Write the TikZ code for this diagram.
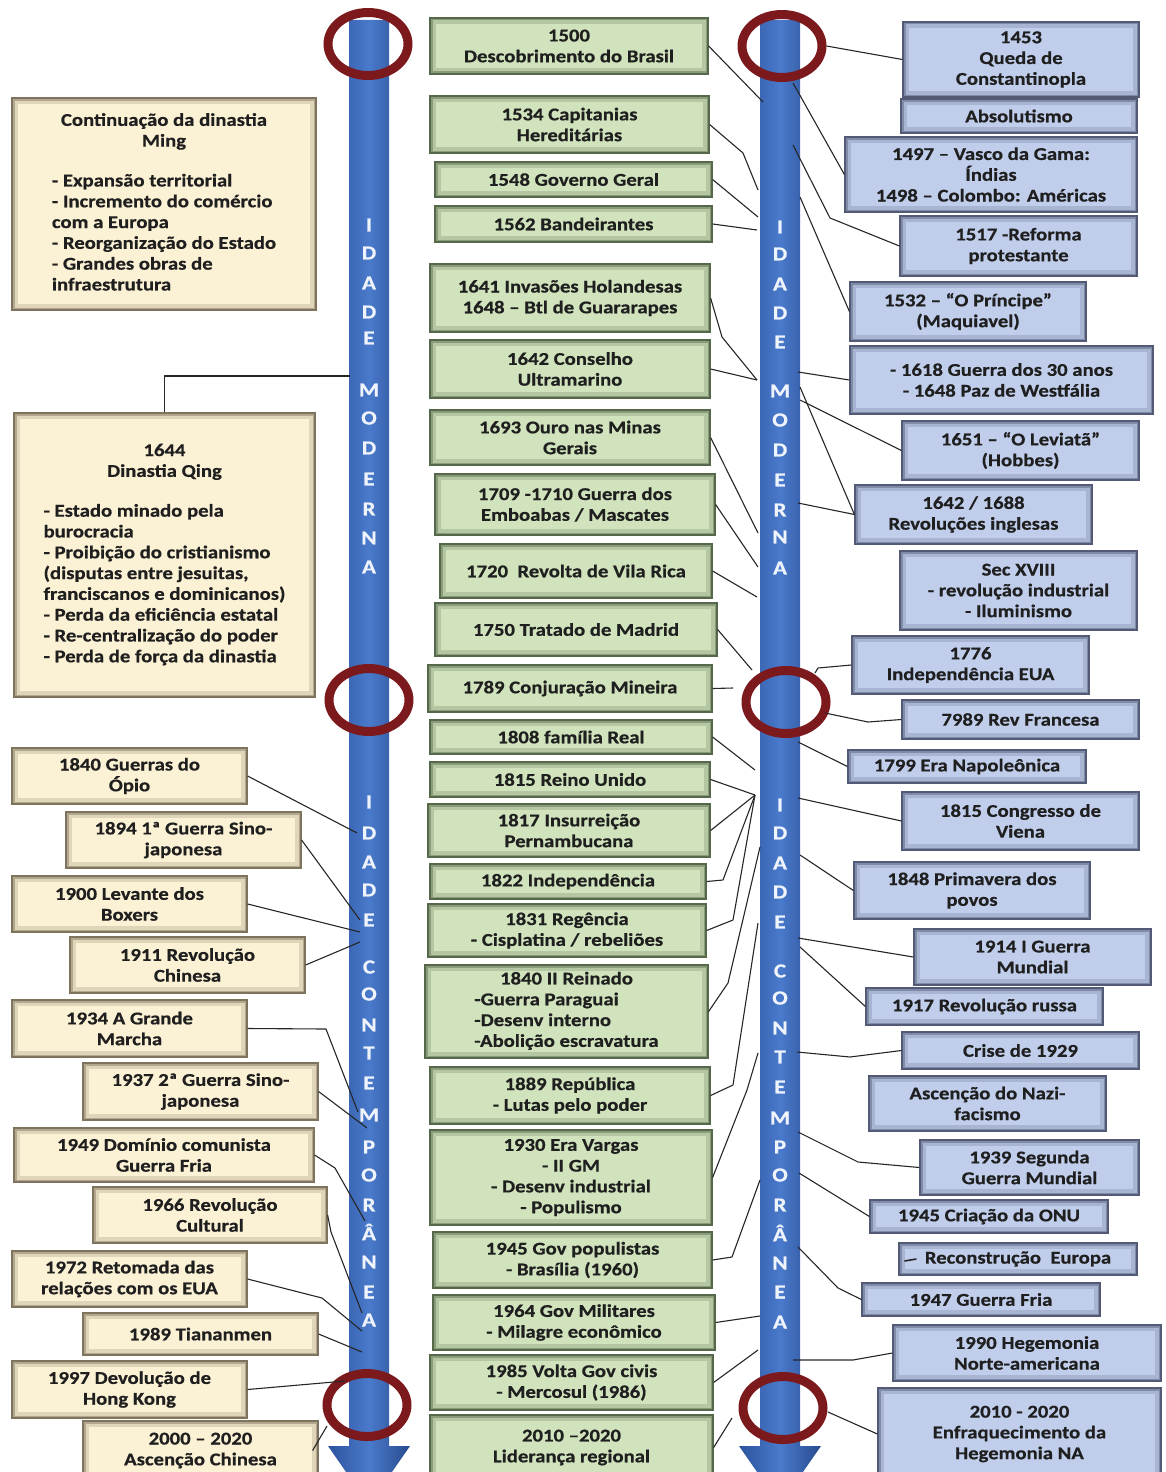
\documentclass[tikz,border=0pt]{standalone}
\usepackage{fontspec}
\setmainfont{Carlito}[FakeStretch=1.15, BoldFeatures={FakeBold=0.6}]
\usetikzlibrary{calc,shapes.geometric}
\definecolor{lfill}{HTML}{FBF1D4}
\definecolor{ledge}{HTML}{7E735C}
\definecolor{gfill}{HTML}{D0E3BC}
\definecolor{gedge}{HTML}{56684A}
\definecolor{bfill}{HTML}{C0CEEC}
\definecolor{bedge}{HTML}{525A76}
\definecolor{txtc}{HTML}{1F1F1F}
\definecolor{arrd}{HTML}{2C539E}
\definecolor{arrl}{HTML}{4A7ACB}
\definecolor{ringc}{HTML}{7C191C}
\definecolor{vlc}{HTML}{EEF3FC}
\newcommand\bx[7]{\node[#1, minimum width={#5pt-#3pt}, minimum height={#6pt-#4pt}] (#2) at ({(#3+#5)/2},{(#4+#6)/2}) {#7};}
\tikzset{
  base/.style={rectangle, inner sep=0pt, align=center, text=txtc,
    font=\fontsize{18}{20.8}\selectfont\bfseries},
  tbox/.style 2 args={base, fill=#1, draw=#2, line width=1.2pt,
    path picture={
      \draw[#2, line width=12pt, opacity=.22] (path picture bounding box.south west) rectangle (path picture bounding box.north east);
      \draw[#2, line width=5pt, opacity=.45] (path picture bounding box.south west) rectangle (path picture bounding box.north east);}},
  lbox/.style={tbox={lfill}{ledge}},
  gbox/.style={tbox={gfill}{gedge}},
  bbox/.style={tbox={bfill}{bedge}},
  ringnode/.style={ellipse, draw=ringc, line width=9pt, inner sep=0pt, minimum width=80pt, minimum height=63pt},
  vl/.style={text=vlc, font=\fontsize{20}{20}\selectfont\bfseries, inner sep=0pt},
  con/.style={draw=black!85, line width=1.1pt, line join=round}
}
\begin{document}
\begin{tikzpicture}[x=1pt,y=-1pt]
\useasboundingbox (0,0) rectangle (1165,1472);
\clip (0,0) rectangle (1165,1472);
% arrows
\path[left color=arrd, right color=arrd!90!black, middle color=arrl]
  (349,20) -- (389,20) -- (389,1446) -- (410,1446) -- (369,1505) -- (328,1446) -- (349,1446) -- cycle;
\path[left color=arrd, right color=arrd!90!black, middle color=arrl]
  (760,20) -- (800,20) -- (800,1446) -- (821,1446) -- (780,1505) -- (739,1446) -- (760,1446) -- cycle;
% letters
\foreach \l/\y [count=\i] in {I/225,D/253,A/283,D/312,E/338,M/390,O/418,D/448,E/479,R/509,N/538,A/567,
  I/802,D/833,A/862,D/890,E/920,C/967,O/994,N/1025,T/1053,E/1083,M/1115,P/1147,O/1175,R/1205,Â/1232,N/1262,E/1292,A/1320}
  \node[vl] (la\i) at (369,\y) {\l};
\foreach \l/\y [count=\i] in {I/227,D/254,A/284,D/313,E/342,M/391,O/420,D/450,E/480,R/510,N/537,A/568,
  I/805,D/833,A/863,D/892,E/922,C/971,O/998,N/1028,T/1057,E/1087,M/1118,P/1147,O/1175,R/1205,Â/1233,N/1263,E/1292,A/1322}
  \node[vl] (ra\i) at (780,\y) {\l};
% rings
\node[ringnode] (rTL) at (368,44) {};
\node[ringnode] (rTR) at (782,46) {};
\node[ringnode] (rML) at (369,700) {};
\node[ringnode] (rMR) at (786,702) {};
\node[ringnode] (rBL) at (367,1405) {};
\node[ringnode] (rBR) at (783,1408) {};
% left boxes
\bx{lbox}{L1}{12}{98}{316}{310}{\begin{tabular}{@{}l@{}}\multicolumn{1}{@{}c@{}}{Continuação da dinastia}\\\multicolumn{1}{@{}c@{}}{Ming}\\[19pt]- Expansão territorial\\- Incremento do comércio\\com a Europa\\- Reorganização do Estado\\- Grandes obras de\\infraestrutura\end{tabular}}
\bx{lbox}{L2}{14}{413}{315}{697}{\begin{tabular}{@{}l@{}}\multicolumn{1}{@{}c@{}}{1644}\\\multicolumn{1}{@{}c@{}}{Dinastia Qing}\\[19pt]- Estado minado pela\\burocracia\\- Proibição do cristianismo\\(disputas entre jesuitas,\\franciscanos e dominicanos)\\- Perda da eficiência estatal\\- Re-centralização do poder\\- Perda de força da dinastia\end{tabular}}
\bx{lbox}{L3}{12}{748}{247}{804}{1840 Guerras do\\Ópio}
\bx{lbox}{L4}{66}{812}{301}{868}{1894 1ª Guerra Sino-\\japonesa}
\bx{lbox}{L5}{12}{876}{247}{932}{1900 Levante dos\\Boxers}
\bx{lbox}{L6}{70}{937}{305}{993}{1911 Revolução\\Chinesa}
\bx{lbox}{L7}{12}{1000}{247}{1057}{1934 A Grande\\Marcha}
\bx{lbox}{L8}{83}{1063}{318}{1120}{1937 2ª Guerra Sino-\\japonesa}
\bx{lbox}{L9}{14}{1128}{314}{1182}{1949 Domínio comunista\\Guerra Fria}
\bx{lbox}{L10}{93}{1187}{327}{1243}{1966 Revolução\\Cultural}
\bx{lbox}{L11}{12}{1251}{247}{1307}{1972 Retomada das\\relações com os EUA}
\bx{lbox}{L12}{83}{1313}{318}{1355}{1989 Tiananmen}
\bx{lbox}{L13}{12}{1361}{247}{1418}{1997 Devolução de\\Hong Kong}
\bx{lbox}{L14}{83}{1421}{318}{1480}{2000 – 2020\\Ascenção Chinesa}
% middle boxes
\bx{gbox}{M1}{430}{18}{708}{74}{1500\\Descobrimento do Brasil}
\bx{gbox}{M2}{430}{96}{709}{153}{1534 Capitanias\\Hereditárias}
\bx{gbox}{M3}{435}{162}{712}{197}{1548 Governo Geral}
\bx{gbox}{M4}{435}{206}{712}{242}{1562 Bandeirantes}
\bx{gbox}{M5}{430}{264}{710}{332}{1641 Invasões Holandesas\\1648 – Btl de Guararapes}
\bx{gbox}{M6}{430}{340}{710}{398}{1642 Conselho\\Ultramarino}
\bx{gbox}{M7}{430}{410}{710}{465}{1693 Ouro nas Minas\\Gerais}
\bx{gbox}{M8}{435}{474}{715}{535}{1709 -1710 Guerra dos\\Emboabas / Mascates}
\bx{gbox}{M9}{440}{544}{712}{598}{1720\ \ Revolta de Vila Rica}
\bx{gbox}{M10}{435}{603}{717}{656}{1750 Tratado de Madrid}
\bx{gbox}{M11}{428}{665}{712}{712}{1789 Conjuração Mineira}
\bx{gbox}{M12}{430}{720}{712}{754}{1808 família Real}
\bx{gbox}{M13}{430}{762}{710}{797}{1815 Reino Unido}
\bx{gbox}{M14}{428}{804}{710}{857}{1817 Insurreição\\Pernambucana}
\bx{gbox}{M15}{430}{864}{706}{899}{1822 Independência}
\bx{gbox}{M16}{428}{904}{706}{957}{1831 Regência\\- Cisplatina / rebeliões}
\bx{gbox}{M17}{425}{965}{708}{1058}{\begin{tabular}{@{}l@{}}\multicolumn{1}{@{}c@{}}{1840 II Reinado}\\-Guerra Paraguai\\-Desenv interno\\-Abolição escravatura\end{tabular}}
\bx{gbox}{M18}{430}{1067}{710}{1124}{1889 República\\- Lutas pelo poder}
\bx{gbox}{M19}{430}{1130}{712}{1225}{1930 Era Vargas\\- II GM\\- Desenv industrial\\- Populismo}
\bx{gbox}{M20}{433}{1232}{712}{1288}{1945 Gov populistas\\- Brasília (1960)}
\bx{gbox}{M21}{433}{1295}{715}{1350}{1964 Gov Militares\\- Milagre econômico}
\bx{gbox}{M22}{430}{1355}{713}{1410}{1985 Volta Gov civis\\- Mercosul (1986)}
\bx{gbox}{M23}{430}{1415}{713}{1480}{2010 –2020\\Liderança regional}
% right boxes
\bx{bbox}{R1}{903}{22}{1139}{97}{1453\\Queda de\\Constantinopla}
\bx{bbox}{R2}{901}{99}{1137}{133}{Absolutismo}
\bx{bbox}{R3}{845}{137}{1137}{212}{1497 – Vasco da Gama:\\Índias\\1498 – Colombo: Américas}
\bx{bbox}{R4}{900}{216}{1137}{276}{1517 -Reforma\\protestante}
\bx{bbox}{R5}{850}{282}{1086}{341}{1532 – “O Príncipe”\\(Maquiavel)}
\bx{bbox}{R6}{850}{346}{1153}{414}{- 1618 Guerra dos 30 anos\\- 1648 Paz de Westfália}
\bx{bbox}{R7}{902}{421}{1139}{480}{1651 – “O Leviatã”\\(Hobbes)}
\bx{bbox}{R8}{855}{485}{1092}{544}{1642 / 1688\\Revoluções inglesas}
\bx{bbox}{R9}{900}{551}{1137}{630}{Sec XVIII\\- revolução industrial\\- Iluminismo}
\bx{bbox}{R10}{852}{636}{1089}{694}{1776\\Independência EUA}
\bx{bbox}{R11}{902}{700}{1139}{739}{7989 Rev Francesa}
\bx{bbox}{R12}{848}{750}{1086}{783}{1799 Era Napoleônica}
\bx{bbox}{R13}{902}{792}{1139}{850}{1815 Congresso de\\Viena}
\bx{bbox}{R14}{854}{862}{1090}{919}{1848 Primavera dos\\povos}
\bx{bbox}{R15}{914}{929}{1151}{985}{1914 I Guerra\\Mundial}
\bx{bbox}{R16}{866}{988}{1103}{1025}{1917 Revolução russa}
\bx{bbox}{R17}{902}{1032}{1139}{1069}{Crise de 1929}
\bx{bbox}{R18}{869}{1076}{1106}{1131}{Ascenção do Nazi-\\facismo}
\bx{bbox}{R19}{920}{1140}{1139}{1195}{1939 Segunda\\Guerra Mundial}
\bx{bbox}{R20}{870}{1200}{1108}{1233}{1945 Criação da ONU}
\bx{bbox}{R21}{899}{1243}{1137}{1275}{Reconstrução\ \ Europa}
\bx{bbox}{R22}{862}{1283}{1100}{1316}{1947 Guerra Fria}
\bx{bbox}{R23}{893}{1325}{1161}{1381}{1990 Hegemonia\\Norte-americana}
\bx{bbox}{R24}{878}{1388}{1161}{1480}{2010 - 2020\\Enfraquecimento da\\Hegemonia NA}
% arrow attachment coordinates (left arrow)
\coordinate (aL2) at (350,376);
\coordinate (aL3) at (357,833);
\coordinate (aL4) at (360,920);
\coordinate (aL5) at (360,932);
\coordinate (aL6) at (360,942);
\coordinate (aL7) at (358,1112);
\coordinate (aL8) at (367,1128);
\coordinate (aL9) at (365,1221);
\coordinate (aL10) at (362,1313);
\coordinate (aL11) at (362,1331);
\coordinate (aL12) at (362,1352);
\coordinate (aL13) at (345,1381);
\coordinate (aL14) at (327,1426);
% left connectors
\draw[con] (L2.north) |- (aL2);
\draw[con] (L3.east) -- (aL3);
\draw[con] (L4.east) -- (aL4);
\draw[con] (L5.east) -- (aL5);
\draw[con] (L6.east) -- (aL6);
\draw[con] (L7.east) -- (326,1029) -- (aL7);
\draw[con] (L8.east) -- (aL8);
\draw[con] (L9.east) -- (335,1168) -- (aL9);
\draw[con] (L10.east) -- (331,1232) -- (aL10);
\draw[con] (L11.east) -- (322,1298) -- (aL11);
\draw[con] (L12.east) -- (aL12);
\draw[con] (L13.east) -- (aL13);
\draw[con] ([xshift=-6pt]L14.east) -- (aL14);
% middle connectors to right arrow
\coordinate (fan) at (755,795);
\draw[con] (M1.east) -- (763,102);
\draw[con] (M2.east) -- (743,153) -- (758,190);
\draw[con] (M3.east) -- (758,217);
\draw[con] (M4.east) -- (757,230);
\draw[con] (M5.east) -- (722,337) -- (757,380);
\draw[con] (M6.east) -- (757,380);
\draw[con] (M7.east) -- (758,533);
\draw[con] (M8.east) -- (758,567);
\draw[con] (M9.east) -- (757,597);
\draw[con] (M10.east) -- (752,670);
\draw[con] (M11.east) -- (733,688);
\draw[con] (M12.east) -- (755,770);
\draw[con] (M13.east) -- (fan);
\draw[con] (M14.east) -- (fan);
\draw[con] (M15.east) -- (723,880) -- (fan);
\draw[con] (M16.east) -- (733,920) -- (fan);
\draw[con] (M17.east) -- (728,983) -- (760,847);
\draw[con] (M18.east) -- (733,1085) -- (758,923);
\draw[con] (M19.east) -- (747,1090) -- (758,1053);
\draw[con] (M20.east) -- (732,1257) -- (760,1180);
\draw[con] (M21.east) -- (760,1316);
\draw[con] (M22.east) -- (758,1350);
\draw[con] (M23.east) -- (732,1418);
% right connectors
\draw[con] (rTR.east) -- (R1.west);
\draw[con] (R3.west) -- (793,83);
\draw[con] (R4.west) -- (830,218) -- (793,145);
\draw[con] (R5.west) -- (800,197);
\draw[con] (R6.west) -- (798,372);
\draw[con] (R7.west) -- (800,400);
\draw[con] (R8.west) -- (800,387);
\draw[con] (R8.west) -- (798,503);
\draw[con] (R10.west) -- (818,668) -- (815,673);
\draw[con] (R11.west) -- (868,722) -- (825,713);
\draw[con] (R12.west) -- (798,742);
\draw[con] (R13.west) -- (798,798);
\draw[con] (R14.west) -- (800,855);
\draw[con] (R15.west) -- (798,938);
\draw[con] (R16.west) -- (800,947);
\draw[con] (R17.west) -- (850,1057) -- (797,1052);
\draw[con] (R19.west) -- (858,1162) -- (798,1132);
\draw[con] (R20.west) -- (799,1173);
\draw[con] (R22.west) -- (838,1288) -- (798,1247);
\draw[con] (R23.west) -- (853,1360) -- (793,1360);
\draw[con] (R24.west) -- (828,1412);
\draw[con, line width=1.6pt] ($(R21.west)+(6,2)$) -- ($(R21.west)+(18,0)$);
\end{tikzpicture}
\end{document}
